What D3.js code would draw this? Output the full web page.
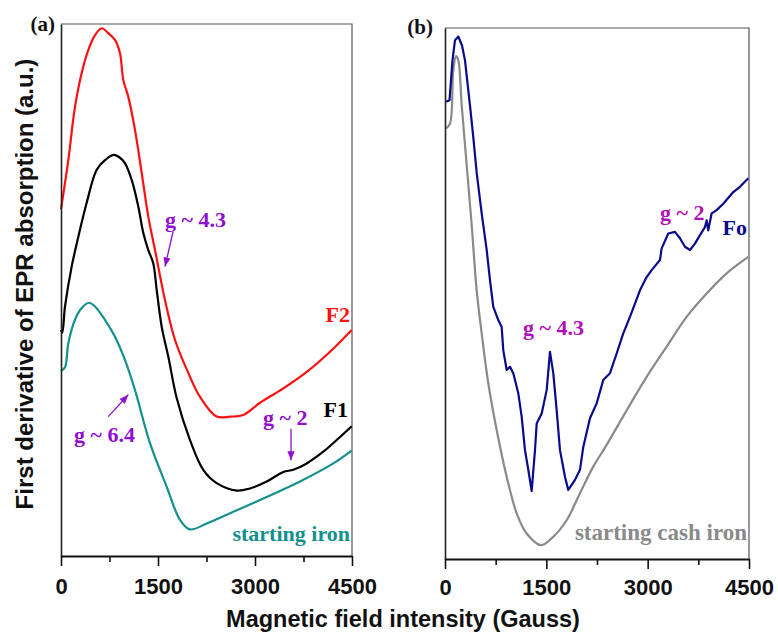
<!DOCTYPE html>
<html><head><meta charset="utf-8">
<script src="https://cdn.jsdelivr.net/npm/d3@7"></script>
<style>body{margin:0;background:#fff}</style>
</head><body>
<svg id="c" width="778" height="634"></svg>
<script>
// ---- data (field in Gauss, EPR first derivative in arbitrary units) ----
const xTicks = [0, 1500, 3000, 4500];
const xMinorTicks = [750, 2250, 3750];

const seriesF2 = [[0,65.2],[113,74.4],[216,84.4],[320,90.8],[422,95.1],[526,97.9],[629,99.2],[731,98.3],[835,97.0],[912,94.5],[963,89.5],[1041,86.3],[1144,80.1],[1248,72.0],[1350,63.8],[1454,57.5],[1608,48.1],[1763,40.6],[1969,34.4],[2150,29.9],[2408,26.2],[2613,26.2],[2819,26.5],[3077,28.8],[3438,31.5],[3800,34.6],[4160,38.4],[4495,42.5]];

const seriesF1 = [[0,42.5],[20,42.0],[62,46.9],[165,54.4],[268,60.0],[397,66.4],[552,72.6],[680,74.4],[809,75.4],[897,75.0],[990,73.8],[1093,70.7],[1195,65.7],[1273,60.7],[1350,57.5],[1427,55.0],[1480,50.0],[1557,43.1],[1659,37.5],[1789,29.7],[1995,21.8],[2200,16.2],[2408,13.7],[2717,12.3],[2923,12.7],[3181,14.0],[3438,15.8],[3592,16.2],[3800,17.4],[4056,19.6],[4263,21.8],[4495,24.4]];

const seriesStartingIron = [[0,34.8],[62,35.5],[113,40.0],[216,44.4],[320,46.6],[433,47.6],[526,46.9],[680,44.4],[835,41.2],[990,36.8],[1144,31.2],[1376,21.2],[1635,13.0],[1840,6.8],[1995,5.0],[2253,6.1],[2664,8.3],[3181,11.1],[3696,14.0],[4211,17.4],[4495,19.8]];

const seriesFo = [[15,86.1],[67,86.4],[111,93.9],[148,97.7],[197,98.4],[252,96.7],[296,93.9],[370,85.4],[419,79.4],[469,72.7],[543,65.1],[617,58.2],[666,52.5],[715,47.5],[789,45.0],[839,43.7],[863,39.3],[913,35.6],[962,36.2],[1011,35.0],[1085,31.2],[1135,26.8],[1184,20.5],[1233,16.8],[1283,12.8],[1332,20.5],[1357,25.5],[1431,27.4],[1505,31.8],[1554,39.0],[1603,35.0],[1653,28.0],[1702,20.5],[1776,15.5],[1825,13.0],[1924,14.9],[1998,16.8],[2047,21.1],[2146,26.5],[2245,29.3],[2343,33.7],[2442,35.0],[2541,38.7],[2639,42.5],[2738,45.6],[2886,50.6],[2985,53.1],[3059,54.4],[3182,56.3],[3207,58.5],[3305,61.3],[3404,61.6],[3478,60.4],[3552,58.8],[3626,58.2],[3700,59.4],[3774,61.0],[3848,62.5],[3873,63.8],[3897,61.9],[3947,65.1],[4021,65.7],[4119,66.9],[4267,69.1],[4366,70.1],[4489,71.7]];

const seriesCastIron = [[15,81.1],[74,82.0],[123,92.0],[163,94.7],[197,93.9],[247,85.5],[321,74.2],[395,62.9],[469,50.6],[543,42.5],[641,33.1],[765,24.3],[913,15.5],[1061,8.6],[1209,4.8],[1421,2.6],[1603,4.2],[1801,7.3],[1998,12.4],[2195,17.4],[2393,21.5],[2689,28.0],[2985,34.3],[3281,40.0],[3577,45.6],[3873,50.0],[4169,53.8],[4489,56.9]];

// annotations: [text, field, value]
const labelsA = [["F2", 4469, 44.0], ["F1", 4438, 26.1], ["starting iron", 4469, 2.8]];
const notesA = [["g ~ 4.3", 1608, 61.8], ["g ~ 6.4", 201, 21.4], ["g ~ 2", 3124, 24.6]];
const arrowsA = [[1732, 60.9, 1608, 54.4], [731, 26.2, 1041, 30.3], [3557, 23.9, 3557, 18.0]];
const labelsB = [["Fo", 4470, 61.0], ["starting cash iron", 4470, 3.6]];
const notesB = [["g ~ 4.3", 1154, 42.2], ["g ~ 2", 3182, 63.8]];

// ---- drawing ----
const svg = d3.select("#c");
const SANS = "'Liberation Sans', Arial, sans-serif";
const SERIF = "'Liberation Serif', 'Times New Roman', serif";

svg.append("defs").selectAll("marker").data([["arrA","#9010D0"]]).join("marker")
  .attr("id", d => d[0]).attr("viewBox","0 0 10 10").attr("refX",10).attr("refY",5)
  .attr("markerWidth",7).attr("markerHeight",7).attr("orient","auto")
  .append("path").attr("d","M0,1 L10,5 L0,9 Z").attr("fill", d => d[1]);

function panel(cfg) {
  const x = d3.scaleLinear().domain([0, 4500]).range([cfg.l, cfg.r]);
  const y = d3.scaleLinear().domain([0, 100]).range([cfg.b, cfg.t]);
  const g = svg.append("g");
  // frame top/right
  g.append("path").attr("d", `M${cfg.l},${cfg.t}H${cfg.r}V${cfg.b}`)
    .attr("fill","none").attr("stroke","#555").attr("stroke-width",1.2);
  // curves
  cfg.series.forEach(s => {
    g.append("path").datum(s.data)
      .attr("fill","none").attr("stroke", s.color).attr("stroke-width", 2.2)
      .attr("stroke-linejoin","round")
      .attr("d", d3.line().x(d => x(d[0])).y(d => y(d[1])).curve(s.curve)(s.data));
  });
  // left axis line
  g.append("g").attr("transform",`translate(${cfg.l},0)`)
    .call(d3.axisLeft(y).tickValues([]).tickSizeOuter(0))
    .call(a => a.select(".domain").attr("stroke","#222").attr("stroke-width",1.6));
  // minor ticks
  g.append("g").attr("transform",`translate(0,${cfg.b})`)
    .call(d3.axisBottom(x).tickValues(xMinorTicks).tickSize(6).tickFormat(""))
    .call(a => { a.select(".domain").remove(); a.selectAll("line").attr("stroke","#111").attr("stroke-width",1.6); });
  // major axis
  g.append("g").attr("transform",`translate(0,${cfg.b})`)
    .call(d3.axisBottom(x).tickValues(xTicks).tickSize(10).tickSizeOuter(0).tickPadding(cfg.pad).tickFormat(d3.format("d")))
    .call(a => {
      a.select(".domain").attr("stroke","#111").attr("stroke-width",2);
      a.selectAll("line").attr("stroke","#111").attr("stroke-width",1.6);
      a.selectAll("text").attr("font-family",SANS).attr("font-weight","bold").attr("font-size",22).attr("fill","#111");
    });
  // labels
  cfg.labels.forEach(([t, fx, fv], i) => {
    g.append("text").attr("x", x(fx)).attr("y", y(fv)).attr("text-anchor","end")
      .attr("font-family",SERIF).attr("font-weight","bold").attr("font-size",cfg.labelSize[i])
      .attr("fill", cfg.labelColors[i]).text(t);
  });
  cfg.notes.forEach(([t, fx, fv]) => {
    g.append("text").attr("x", x(fx)).attr("y", y(fv))
      .attr("font-family",SERIF).attr("font-weight","bold").attr("font-size",22)
      .attr("fill", cfg.noteColor).text(t);
  });
  (cfg.arrows || []).forEach(([x1,v1,x2,v2]) => {
    g.append("line").attr("x1",x(x1)).attr("y1",y(v1)).attr("x2",x(x2)).attr("y2",y(v2))
      .attr("stroke", cfg.noteColor).attr("stroke-width",1.3).attr("marker-end","url(#arrA)");
  });
  g.append("text").attr("x", cfg.tagX).attr("y", cfg.tagY).attr("text-anchor","end")
    .attr("font-family",SERIF).attr("font-weight","bold").attr("font-size",21).attr("fill","#111").text(cfg.tag);
}

panel({
  l: 61, r: 352, t: 24, b: 556, pad: 12, tag: "(a)", tagX: 55, tagY: 31,
  series: [
    {data: seriesF2, color: "#FF1010", curve: d3.curveCatmullRom},
    {data: seriesF1, color: "#000000", curve: d3.curveCatmullRom},
    {data: seriesStartingIron, color: "#14908F", curve: d3.curveCatmullRom}
  ],
  labels: labelsA, labelColors: ["#FF1010","#000000","#14908F"], labelSize: [22,22,22],
  notes: notesA, noteColor: "#9010D0", arrows: arrowsA
});
panel({
  l: 445, r: 749, t: 28, b: 559, pad: 10, tag: "(b)", tagX: 433, tagY: 34,
  series: [
    {data: seriesCastIron, color: "#8A8A8A", curve: d3.curveCatmullRom},
    {data: seriesFo, color: "#0A0A8C", curve: d3.curveLinear}
  ],
  labels: labelsB, labelColors: ["#0A0A8C","#8A8A8A"], labelSize: [22,23],
  notes: notesB, noteColor: "#B010B8"
});

// axis titles
svg.append("text").attr("x", 403).attr("y", 627).attr("text-anchor","middle")
  .attr("font-family",SANS).attr("font-weight","bold").attr("font-size",23.5).attr("fill","#111")
  .text("Magnetic field intensity (Gauss)");
svg.append("text").attr("transform","translate(33,284) rotate(-90)").attr("text-anchor","middle")
  .attr("font-family",SANS).attr("font-weight","bold").attr("font-size",24).attr("fill","#111")
  .text("First derivative of EPR absorption (a.u.)");
</script>
</body></html>
